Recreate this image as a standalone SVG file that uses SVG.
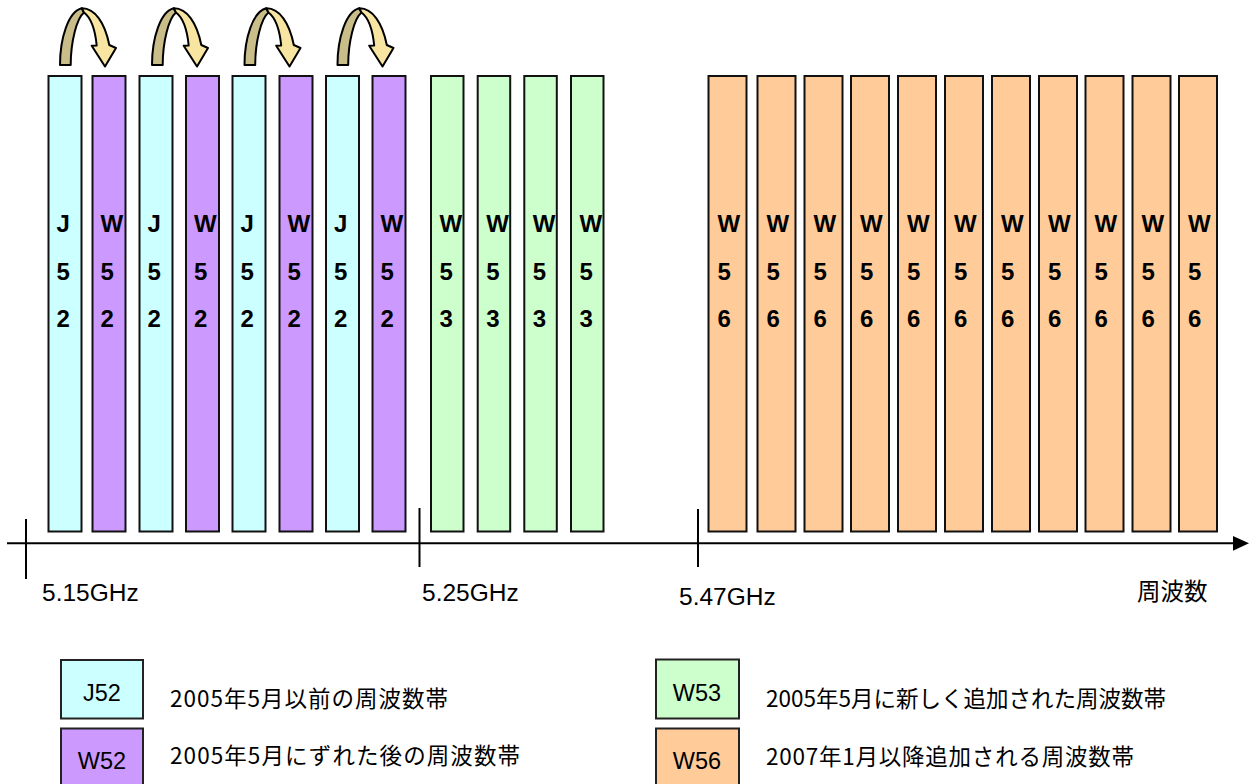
<svg xmlns="http://www.w3.org/2000/svg" width="1253" height="784" viewBox="0 0 1253 784">
<defs>
<style>
.bar{stroke:#111;stroke-width:2}
.j52{fill:#CCFFFF}.w52{fill:#CC99FF}.w53{fill:#CCFFCC}.w56{fill:#FFCC99}
.bl{font-family:"Liberation Sans",Arial,sans-serif;font-weight:bold;font-size:24px;fill:#000}
.lab{font-family:"Liberation Sans",Arial,sans-serif;font-size:23.5px;fill:#000}
.tk{font-family:"Liberation Sans",Arial,sans-serif;font-size:24.5px;fill:#000}
.jp{font-family:"Noto Sans CJK JP","Liberation Sans",sans-serif;font-size:22.5px;fill:#000}
.ax{stroke:#000;stroke-width:2;fill:none}
.dk{fill:#C9BD89;stroke:#000;stroke-width:2;stroke-linejoin:round}
.lt{fill:#F7E5A1;stroke:#000;stroke-width:2;stroke-linejoin:round}
.lg{stroke:#222;stroke-width:2}
</style>
<g id="swap">
<path class="dk" d="M60 65 C60 38.3 68.3 11.7 81.7 8.3 L84 12.5 C76.7 18.3 70.7 41.7 70.7 65 Z"/>
<path class="lt" d="M81.7 8.3 C95 8 105 23.3 109.3 45 L116 48 L105 66.5 L91.7 45.7 L96.7 45.5 C95 28.3 90 17 84 12.5 Z"/>
</g>
</defs>
<rect width="1253" height="784" fill="#fff"/>

<g id="connectors">
<line class="ax" x1="7" y1="543.3" x2="1234" y2="543.3"/>
<polygon points="1233,536 1249,543.3 1233,550.7" fill="#000"/>
<line class="ax" x1="26" y1="519" x2="26" y2="579"/>
<line class="ax" x1="419.5" y1="508" x2="419.5" y2="567"/>
<line class="ax" x1="698" y1="509" x2="698" y2="567"/>
<use href="#swap"/>
<use href="#swap" transform="translate(92,0)"/>
<use href="#swap" transform="translate(184.5,0)"/>
<use href="#swap" transform="translate(277.5,0)"/>
</g>

<g id="bar-j52-1"><rect class="bar j52" x="48.5" y="76" width="33" height="455.5"/><text class="bl" x="56.5" y="232">J</text><text class="bl" x="56.5" y="279.5">5</text><text class="bl" x="56.5" y="327">2</text></g>
<g id="bar-w52-1"><rect class="bar w52" x="92.5" y="76" width="33" height="455.5"/><text class="bl" x="100.5" y="232">W</text><text class="bl" x="100.5" y="279.5">5</text><text class="bl" x="100.5" y="327">2</text></g>
<g id="bar-j52-2"><rect class="bar j52" x="139.5" y="76" width="33" height="455.5"/><text class="bl" x="147.5" y="232">J</text><text class="bl" x="147.5" y="279.5">5</text><text class="bl" x="147.5" y="327">2</text></g>
<g id="bar-w52-2"><rect class="bar w52" x="186" y="76" width="33" height="455.5"/><text class="bl" x="194" y="232">W</text><text class="bl" x="194" y="279.5">5</text><text class="bl" x="194" y="327">2</text></g>
<g id="bar-j52-3"><rect class="bar j52" x="232.5" y="76" width="33" height="455.5"/><text class="bl" x="240.5" y="232">J</text><text class="bl" x="240.5" y="279.5">5</text><text class="bl" x="240.5" y="327">2</text></g>
<g id="bar-w52-3"><rect class="bar w52" x="279.5" y="76" width="33" height="455.5"/><text class="bl" x="287.5" y="232">W</text><text class="bl" x="287.5" y="279.5">5</text><text class="bl" x="287.5" y="327">2</text></g>
<g id="bar-j52-4"><rect class="bar j52" x="326" y="76" width="33" height="455.5"/><text class="bl" x="334" y="232">J</text><text class="bl" x="334" y="279.5">5</text><text class="bl" x="334" y="327">2</text></g>
<g id="bar-w52-4"><rect class="bar w52" x="372.5" y="76" width="33" height="455.5"/><text class="bl" x="380.5" y="232">W</text><text class="bl" x="380.5" y="279.5">5</text><text class="bl" x="380.5" y="327">2</text></g>

<g id="bar-w53-1"><rect class="bar w53" x="431" y="76" width="32.5" height="455.5"/><text class="bl" x="439.5" y="232">W</text><text class="bl" x="439.5" y="279.5">5</text><text class="bl" x="439.5" y="327">3</text></g>
<g id="bar-w53-2"><rect class="bar w53" x="477.7" y="76" width="32.5" height="455.5"/><text class="bl" x="486.2" y="232">W</text><text class="bl" x="486.2" y="279.5">5</text><text class="bl" x="486.2" y="327">3</text></g>
<g id="bar-w53-3"><rect class="bar w53" x="524.3" y="76" width="32.5" height="455.5"/><text class="bl" x="532.8" y="232">W</text><text class="bl" x="532.8" y="279.5">5</text><text class="bl" x="532.8" y="327">3</text></g>
<g id="bar-w53-4"><rect class="bar w53" x="571" y="76" width="32.5" height="455.5"/><text class="bl" x="579.5" y="232">W</text><text class="bl" x="579.5" y="279.5">5</text><text class="bl" x="579.5" y="327">3</text></g>

<g id="bar-w56-1"><rect class="bar w56" x="708.5" y="76" width="38" height="455.5"/><text class="bl" x="717.5" y="232">W</text><text class="bl" x="717.5" y="279.5">5</text><text class="bl" x="717.5" y="327">6</text></g>
<g id="bar-w56-2"><rect class="bar w56" x="757.5" y="76" width="38" height="455.5"/><text class="bl" x="766.5" y="232">W</text><text class="bl" x="766.5" y="279.5">5</text><text class="bl" x="766.5" y="327">6</text></g>
<g id="bar-w56-3"><rect class="bar w56" x="804.5" y="76" width="38" height="455.5"/><text class="bl" x="813.5" y="232">W</text><text class="bl" x="813.5" y="279.5">5</text><text class="bl" x="813.5" y="327">6</text></g>
<g id="bar-w56-4"><rect class="bar w56" x="851" y="76" width="38" height="455.5"/><text class="bl" x="860" y="232">W</text><text class="bl" x="860" y="279.5">5</text><text class="bl" x="860" y="327">6</text></g>
<g id="bar-w56-5"><rect class="bar w56" x="898" y="76" width="38" height="455.5"/><text class="bl" x="907" y="232">W</text><text class="bl" x="907" y="279.5">5</text><text class="bl" x="907" y="327">6</text></g>
<g id="bar-w56-6"><rect class="bar w56" x="945" y="76" width="38" height="455.5"/><text class="bl" x="954" y="232">W</text><text class="bl" x="954" y="279.5">5</text><text class="bl" x="954" y="327">6</text></g>
<g id="bar-w56-7"><rect class="bar w56" x="992" y="76" width="38" height="455.5"/><text class="bl" x="1001" y="232">W</text><text class="bl" x="1001" y="279.5">5</text><text class="bl" x="1001" y="327">6</text></g>
<g id="bar-w56-8"><rect class="bar w56" x="1039" y="76" width="38" height="455.5"/><text class="bl" x="1048" y="232">W</text><text class="bl" x="1048" y="279.5">5</text><text class="bl" x="1048" y="327">6</text></g>
<g id="bar-w56-9"><rect class="bar w56" x="1085.5" y="76" width="38" height="455.5"/><text class="bl" x="1094.5" y="232">W</text><text class="bl" x="1094.5" y="279.5">5</text><text class="bl" x="1094.5" y="327">6</text></g>
<g id="bar-w56-10"><rect class="bar w56" x="1132.5" y="76" width="38" height="455.5"/><text class="bl" x="1141.5" y="232">W</text><text class="bl" x="1141.5" y="279.5">5</text><text class="bl" x="1141.5" y="327">6</text></g>
<g id="bar-w56-11"><rect class="bar w56" x="1179" y="76" width="38" height="455.5"/><text class="bl" x="1188" y="232">W</text><text class="bl" x="1188" y="279.5">5</text><text class="bl" x="1188" y="327">6</text></g>

<g id="axis-labels">
<text class="tk" x="42" y="601">5.15GHz</text>
<text class="tk" x="422" y="601">5.25GHz</text>
<text class="tk" x="679" y="605">5.47GHz</text>
<text class="jp" x="1137" y="600" style="font-size:23.5px">周波数</text>
</g>

<g id="legend-j52"><rect class="lg j52" x="61" y="660" width="82" height="58.5"/><text class="lab" x="102" y="701" text-anchor="middle">J52</text><text class="jp" x="170" y="706.5" textLength="278" lengthAdjust="spacing">2005年5月以前の周波数帯</text></g>
<g id="legend-w52"><rect class="lg w52" x="61" y="728.5" width="82" height="60"/><text class="lab" x="102" y="769" text-anchor="middle">W52</text><text class="jp" x="170" y="764" textLength="350" lengthAdjust="spacing">2005年5月にずれた後の周波数帯</text></g>
<g id="legend-w53"><rect class="lg w53" x="656" y="659.5" width="83" height="59"/><text class="lab" x="697" y="701" text-anchor="middle">W53</text><text class="jp" x="766" y="706.5" textLength="400" lengthAdjust="spacing">2005年5月に新しく追加された周波数帯</text></g>
<g id="legend-w56"><rect class="lg w56" x="656" y="728.5" width="83" height="60"/><text class="lab" x="697" y="769" text-anchor="middle">W56</text><text class="jp" x="766" y="765" textLength="368" lengthAdjust="spacing">2007年1月以降追加される周波数帯</text></g>
</svg>
